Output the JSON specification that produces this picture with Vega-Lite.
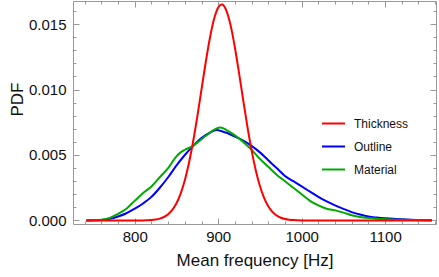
{
  "$schema": "https://vega.github.io/schema/vega-lite/v6.json",
  "width": 363,
  "height": 223,
  "autosize": "none",
  "padding": {"left": 73, "top": 1, "right": 3, "bottom": 53},
  "background": "white",
  "config": {
    "view": {"stroke": "#999999", "strokeWidth": 1},
    "axis": {
      "grid": false,
      "domain": false,
      "labelFont": "Liberation Sans",
      "labelFontSize": 15,
      "labelColor": "#111111",
      "titleFont": "Liberation Sans",
      "titleFontSize": 17,
      "titleFontWeight": "normal",
      "titleColor": "#111111",
      "tickColor": "#999999",
      "tickWidth": 1
    },
    "legend": {
      "labelFont": "Liberation Sans",
      "labelFontSize": 12,
      "labelColor": "#111111"
    }
  },
  "data": {
    "values": [
      {"f": 742, "pdf": 0, "s": "Outline"},
      {"f": 750, "pdf": 0.00001, "s": "Outline"},
      {"f": 760, "pdf": 0.00004, "s": "Outline"},
      {"f": 770, "pdf": 0.00012, "s": "Outline"},
      {"f": 780, "pdf": 0.0003, "s": "Outline"},
      {"f": 790, "pdf": 0.00055, "s": "Outline"},
      {"f": 800, "pdf": 0.0009, "s": "Outline"},
      {"f": 810, "pdf": 0.0013, "s": "Outline"},
      {"f": 820, "pdf": 0.0018, "s": "Outline"},
      {"f": 830, "pdf": 0.0025, "s": "Outline"},
      {"f": 840, "pdf": 0.0033, "s": "Outline"},
      {"f": 850, "pdf": 0.0042, "s": "Outline"},
      {"f": 860, "pdf": 0.005, "s": "Outline"},
      {"f": 870, "pdf": 0.0057, "s": "Outline"},
      {"f": 880, "pdf": 0.0063, "s": "Outline"},
      {"f": 890, "pdf": 0.0067, "s": "Outline"},
      {"f": 898, "pdf": 0.0069, "s": "Outline"},
      {"f": 905, "pdf": 0.0068, "s": "Outline"},
      {"f": 910, "pdf": 0.0067, "s": "Outline"},
      {"f": 920, "pdf": 0.0064, "s": "Outline"},
      {"f": 930, "pdf": 0.0061, "s": "Outline"},
      {"f": 940, "pdf": 0.0057, "s": "Outline"},
      {"f": 950, "pdf": 0.0052, "s": "Outline"},
      {"f": 960, "pdf": 0.0046, "s": "Outline"},
      {"f": 970, "pdf": 0.004, "s": "Outline"},
      {"f": 980, "pdf": 0.0034, "s": "Outline"},
      {"f": 990, "pdf": 0.003, "s": "Outline"},
      {"f": 1000, "pdf": 0.0026, "s": "Outline"},
      {"f": 1010, "pdf": 0.0022, "s": "Outline"},
      {"f": 1020, "pdf": 0.0018, "s": "Outline"},
      {"f": 1030, "pdf": 0.00145, "s": "Outline"},
      {"f": 1040, "pdf": 0.00115, "s": "Outline"},
      {"f": 1050, "pdf": 0.00088, "s": "Outline"},
      {"f": 1060, "pdf": 0.00064, "s": "Outline"},
      {"f": 1070, "pdf": 0.00045, "s": "Outline"},
      {"f": 1080, "pdf": 0.0003, "s": "Outline"},
      {"f": 1090, "pdf": 0.00022, "s": "Outline"},
      {"f": 1100, "pdf": 0.00016, "s": "Outline"},
      {"f": 1120, "pdf": 0.0001, "s": "Outline"},
      {"f": 1140, "pdf": 0.00004, "s": "Outline"},
      {"f": 1156, "pdf": 0.00001, "s": "Outline"},

      {"f": 742, "pdf": 0, "s": "Material"},
      {"f": 750, "pdf": 0.00002, "s": "Material"},
      {"f": 760, "pdf": 0.00006, "s": "Material"},
      {"f": 770, "pdf": 0.0002, "s": "Material"},
      {"f": 780, "pdf": 0.0005, "s": "Material"},
      {"f": 790, "pdf": 0.0009, "s": "Material"},
      {"f": 800, "pdf": 0.0015, "s": "Material"},
      {"f": 810, "pdf": 0.0021, "s": "Material"},
      {"f": 820, "pdf": 0.0026, "s": "Material"},
      {"f": 830, "pdf": 0.0033, "s": "Material"},
      {"f": 840, "pdf": 0.004, "s": "Material"},
      {"f": 850, "pdf": 0.0049, "s": "Material"},
      {"f": 855, "pdf": 0.0052, "s": "Material"},
      {"f": 860, "pdf": 0.0054, "s": "Material"},
      {"f": 870, "pdf": 0.0057, "s": "Material"},
      {"f": 880, "pdf": 0.0062, "s": "Material"},
      {"f": 890, "pdf": 0.0067, "s": "Material"},
      {"f": 897, "pdf": 0.007, "s": "Material"},
      {"f": 903, "pdf": 0.0071, "s": "Material"},
      {"f": 910, "pdf": 0.0069, "s": "Material"},
      {"f": 920, "pdf": 0.0065, "s": "Material"},
      {"f": 930, "pdf": 0.006, "s": "Material"},
      {"f": 940, "pdf": 0.0054, "s": "Material"},
      {"f": 950, "pdf": 0.0047, "s": "Material"},
      {"f": 960, "pdf": 0.0041, "s": "Material"},
      {"f": 970, "pdf": 0.0035, "s": "Material"},
      {"f": 980, "pdf": 0.003, "s": "Material"},
      {"f": 990, "pdf": 0.0025, "s": "Material"},
      {"f": 1000, "pdf": 0.002, "s": "Material"},
      {"f": 1010, "pdf": 0.0015, "s": "Material"},
      {"f": 1020, "pdf": 0.00115, "s": "Material"},
      {"f": 1030, "pdf": 0.0009, "s": "Material"},
      {"f": 1040, "pdf": 0.00077, "s": "Material"},
      {"f": 1050, "pdf": 0.0006, "s": "Material"},
      {"f": 1060, "pdf": 0.0004, "s": "Material"},
      {"f": 1070, "pdf": 0.00026, "s": "Material"},
      {"f": 1080, "pdf": 0.00018, "s": "Material"},
      {"f": 1090, "pdf": 0.00013, "s": "Material"},
      {"f": 1100, "pdf": 0.0001, "s": "Material"},
      {"f": 1120, "pdf": 0.00005, "s": "Material"},
      {"f": 1140, "pdf": 0.00003, "s": "Material"},
      {"f": 1156, "pdf": 0.00001, "s": "Material"},

      {"f": 742, "pdf": 0, "s": "Thickness"},
      {"f": 780, "pdf": 0, "s": "Thickness"},
      {"f": 800, "pdf": 0, "s": "Thickness"},
      {"f": 810, "pdf": 0.000002, "s": "Thickness"},
      {"f": 815, "pdf": 0.000017, "s": "Thickness"},
      {"f": 820, "pdf": 0.000036, "s": "Thickness"},
      {"f": 825, "pdf": 0.000073, "s": "Thickness"},
      {"f": 830, "pdf": 0.000142, "s": "Thickness"},
      {"f": 835, "pdf": 0.000265, "s": "Thickness"},
      {"f": 840, "pdf": 0.000471, "s": "Thickness"},
      {"f": 845, "pdf": 0.000804, "s": "Thickness"},
      {"f": 850, "pdf": 0.001313, "s": "Thickness"},
      {"f": 855, "pdf": 0.002053, "s": "Thickness"},
      {"f": 860, "pdf": 0.003072, "s": "Thickness"},
      {"f": 865, "pdf": 0.004407, "s": "Thickness"},
      {"f": 870, "pdf": 0.006049, "s": "Thickness"},
      {"f": 875, "pdf": 0.007951, "s": "Thickness"},
      {"f": 880, "pdf": 0.010008, "s": "Thickness"},
      {"f": 885, "pdf": 0.012062, "s": "Thickness"},
      {"f": 890, "pdf": 0.01392, "s": "Thickness"},
      {"f": 895, "pdf": 0.01538, "s": "Thickness"},
      {"f": 900, "pdf": 0.01627, "s": "Thickness"},
      {"f": 904, "pdf": 0.0165, "s": "Thickness"},
      {"f": 905, "pdf": 0.01649, "s": "Thickness"},
      {"f": 910, "pdf": 0.01599, "s": "Thickness"},
      {"f": 915, "pdf": 0.01486, "s": "Thickness"},
      {"f": 920, "pdf": 0.01321, "s": "Thickness"},
      {"f": 925, "pdf": 0.01125, "s": "Thickness"},
      {"f": 930, "pdf": 0.009176, "s": "Thickness"},
      {"f": 935, "pdf": 0.007164, "s": "Thickness"},
      {"f": 940, "pdf": 0.005357, "s": "Thickness"},
      {"f": 945, "pdf": 0.003835, "s": "Thickness"},
      {"f": 950, "pdf": 0.002628, "s": "Thickness"},
      {"f": 955, "pdf": 0.001726, "s": "Thickness"},
      {"f": 960, "pdf": 0.001085, "s": "Thickness"},
      {"f": 965, "pdf": 0.000653, "s": "Thickness"},
      {"f": 970, "pdf": 0.000376, "s": "Thickness"},
      {"f": 975, "pdf": 0.000207, "s": "Thickness"},
      {"f": 980, "pdf": 0.00011, "s": "Thickness"},
      {"f": 985, "pdf": 0.000055, "s": "Thickness"},
      {"f": 990, "pdf": 0.000027, "s": "Thickness"},
      {"f": 995, "pdf": 0.000012, "s": "Thickness"},
      {"f": 1000, "pdf": 0.000005, "s": "Thickness"},
      {"f": 1050, "pdf": 0, "s": "Thickness"},
      {"f": 1156, "pdf": 0, "s": "Thickness"}
    ]
  },
  "layer": [
    {
      "mark": {"type": "line", "interpolate": "monotone", "strokeWidth": 2},
      "encoding": {
        "x": {
          "field": "f", "type": "quantitative",
          "scale": {"domain": [726, 1161], "nice": false, "zero": false},
          "axis": {
            "orient": "bottom",
            "title": "Mean frequency [Hz]",
            "values": [740, 760, 780, 800, 820, 840, 860, 880, 900, 920, 940, 960, 980, 1000, 1020, 1040, 1060, 1080, 1100, 1120, 1140, 1160],
            "labelExpr": "datum.value % 100 === 0 ? format(datum.value, 'd') : ''",
            "tickSize": {"condition": {"test": "datum.value % 100 === 0", "value": -6}, "value": -3},
            "labelPadding": 11,
            "titlePadding": 8
          }
        },
        "y": {
          "field": "pdf", "type": "quantitative",
          "scale": {"domain": [-0.00027, 0.01676], "nice": false, "zero": false},
          "axis": {
            "orient": "left",
            "title": "PDF",
            "values": [0, 0.001, 0.002, 0.003, 0.004, 0.005, 0.006, 0.007, 0.008, 0.009, 0.01, 0.011, 0.012, 0.013, 0.014, 0.015, 0.016],
            "labelExpr": "round(datum.value * 1000) % 5 === 0 ? format(datum.value, '.3f') : ''",
            "tickSize": {"condition": {"test": "round(datum.value * 1000) % 5 === 0", "value": -6}, "value": -3},
            "labelPadding": 13,
            "titleX": -51,
            "titleY": 98,
            "titleBaseline": "alphabetic",
            "titleAngle": 270,
            "titleAlign": "center"
          }
        },
        "color": {
          "field": "s", "type": "nominal",
          "scale": {"domain": ["Thickness", "Outline", "Material"], "range": ["#ff0000", "#0000ff", "#00aa00"]},
          "legend": {
            "orient": "none",
            "legendX": 248,
            "legendY": 110,
            "title": null,
            "symbolType": "stroke",
            "symbolSize": 529,
            "symbolStrokeWidth": 2,
            "symbolOpacity": 1,
            "labelOffset": 8,
            "rowPadding": 4
          }
        }
      }
    },
    {
      "mark": {"type": "line", "interpolate": "monotone", "strokeWidth": 2, "strokeOpacity": 0},
      "encoding": {
        "x": {
          "field": "f", "type": "quantitative",
          "axis": {
            "orient": "top",
            "title": null,
            "labels": false,
            "values": [740, 760, 780, 800, 820, 840, 860, 880, 900, 920, 940, 960, 980, 1000, 1020, 1040, 1060, 1080, 1100, 1120, 1140, 1160],
            "tickSize": {"condition": {"test": "datum.value % 100 === 0", "value": -6}, "value": -3}
          }
        },
        "y": {
          "field": "pdf", "type": "quantitative",
          "axis": {
            "orient": "right",
            "title": null,
            "labels": false,
            "values": [0, 0.001, 0.002, 0.003, 0.004, 0.005, 0.006, 0.007, 0.008, 0.009, 0.01, 0.011, 0.012, 0.013, 0.014, 0.015, 0.016],
            "tickSize": {"condition": {"test": "round(datum.value * 1000) % 5 === 0", "value": -6}, "value": -3}
          }
        },
        "color": {"field": "s", "type": "nominal", "legend": null}
      }
    }
  ],
  "resolve": {"axis": {"x": "independent", "y": "independent"}}
}
